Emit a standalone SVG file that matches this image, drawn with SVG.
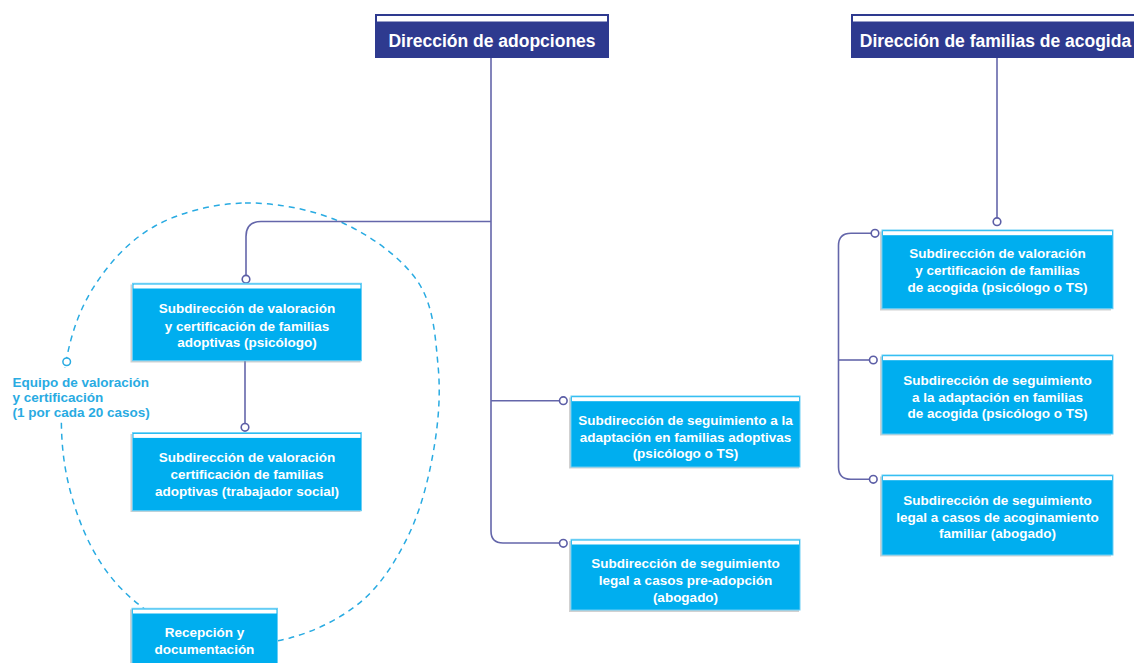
<svg xmlns="http://www.w3.org/2000/svg" width="1134" height="663" viewBox="0 0 1134 663">
<style>
.hdr{fill:#2E3A8F;stroke:#2E3A8F;stroke-width:1}
.hstripe{fill:#fff}
.box{fill:#00AEEF;stroke:#6CCFF5;stroke-width:1}
.stripe{fill:#fff}
.shadow{fill:#9a9a9a;opacity:0.45}
.ht{font-family:"Liberation Sans",Arial,sans-serif;font-weight:bold;font-size:17.5px;fill:#fff;text-anchor:middle}
.bt{font-family:"Liberation Sans",Arial,sans-serif;font-weight:bold;font-size:13.5px;fill:#fff;text-anchor:middle}
.lbl{font-family:"Liberation Sans",Arial,sans-serif;font-weight:bold;font-size:13.5px;fill:#29ABE2}
.conn{fill:none;stroke:#6466AA;stroke-width:1.6}
.dot{fill:#fff;stroke:#5C5EA6;stroke-width:1.6}
.dash{fill:none;stroke:#29ABE2;stroke-width:1.5;stroke-dasharray:6 5}
</style>

<g id="team-ellipse">
<path class="dash" d="M245 203 C276.3 202.5 314.2 209.8 343 223 C371.8 236.2 402.2 258.3 418 282 C433.8 305.7 435.3 337.3 438 365 C440.7 392.7 438.7 420.2 434 448 C429.3 475.8 421.8 506.7 410 532 C398.2 557.3 383 582.3 363 600 C343 617.7 314.7 631.3 290 638 C265.3 644.7 239.7 645.2 215 640 C190.3 634.8 162.5 622.3 142 607 C121.5 591.7 105 572.5 92 548 C79 523.5 68.3 491 64 460 C59.7 429 60.8 391.2 66 362 C71.2 332.8 80.2 307.7 95 285 C109.8 262.3 130 239.7 155 226 C180 212.3 213.7 203.5 245 203 Z"/>
</g>

<g id="connectors">
<path class="conn" d="M491 58 V531 Q491 543 503 543 H560"/>
<path class="conn" d="M491 221.5 H261 Q246 221.5 246 236.5 V275"/>
<path class="conn" d="M491 400.7 H559.5"/>
<path class="conn" d="M245 361 V423.5"/>
<path class="conn" d="M997 58 V218"/>
<path class="conn" d="M871 233.3 H851 Q838.5 233.3 838.5 245.8 V467 Q838.5 479.3 851 479.3 H869.5"/>
<path class="conn" d="M838.5 360 H869.5"/>
<circle class="dot" cx="246" cy="279.2" r="3.8"/>
<circle class="dot" cx="245" cy="427.3" r="3.8"/>
<circle class="dot" cx="563.3" cy="400.7" r="3.8"/>
<circle class="dot" cx="563.3" cy="543.3" r="3.8"/>
<circle class="dot" cx="997" cy="221.7" r="3.8"/>
<circle class="dot" cx="875" cy="233.3" r="3.8"/>
<circle class="dot" cx="873.3" cy="360" r="3.8"/>
<circle class="dot" cx="873.3" cy="479.3" r="3.8"/>
</g>

<g id="equipo-label">
<rect x="6" y="368" width="192" height="54" fill="#fff"/>
<circle cx="66.7" cy="361.7" r="3.8" fill="#fff" stroke="#29ABE2" stroke-width="1.5"/>
<text class="lbl" x="12.5" y="386.7">Equipo de valoración</text>
<text class="lbl" x="12.5" y="401.7">y certificación</text>
<text class="lbl" x="12.5" y="416.7">(1 por cada 20 casos)</text>
</g>

<g id="dir-adopciones">
<rect class="hdr" x="375.5" y="14.5" width="233" height="43"/>
<rect class="hstripe" x="377" y="16" width="230" height="5.5"/>
<text class="ht" x="492" y="46.7">Dirección de adopciones</text>
</g>

<g id="dir-acogida">
<rect class="hdr" x="851.5" y="14.5" width="290" height="43"/>
<rect class="hstripe" x="853" y="16" width="287" height="5.5"/>
<text class="ht" x="995.5" y="46.7">Dirección de familias de acogida</text>
</g>

<g id="sub-valoracion-psicologo">
<rect class="shadow" x="130.5" y="284.5" width="230" height="78"/>
<rect class="box" x="132.5" y="283.3" width="229" height="77.4"/>
<rect class="stripe" x="133.5" y="284.5" width="227" height="4"/>
<text class="bt" x="247" y="313.3">Subdirección de valoración</text>
<text class="bt" x="247" y="330.6">y certificación de familias</text>
<text class="bt" x="247" y="347.3">adoptivas (psicólogo)</text>
</g>

<g id="sub-valoracion-ts">
<rect class="shadow" x="130.5" y="434" width="230" height="78"/>
<rect class="box" x="132.5" y="432.7" width="229" height="78"/>
<rect class="stripe" x="133.5" y="433.9" width="227" height="4"/>
<text class="bt" x="247" y="461.7">Subdirección de valoración</text>
<text class="bt" x="247" y="479">certificación de familias</text>
<text class="bt" x="247" y="496">adoptivas (trabajador social)</text>
</g>

<g id="sub-seguimiento-adaptacion">
<rect class="shadow" x="569" y="397.5" width="230" height="71"/>
<rect class="box" x="571" y="396" width="229" height="71"/>
<rect class="stripe" x="572" y="397.2" width="227" height="4"/>
<text class="bt" x="685.5" y="425">Subdirección de seguimiento a la</text>
<text class="bt" x="685.5" y="441.7">adaptación en familias adoptivas</text>
<text class="bt" x="685.5" y="458.3">(psicólogo o TS)</text>
</g>

<g id="sub-seguimiento-legal">
<rect class="shadow" x="569" y="541" width="230" height="71"/>
<rect class="box" x="571" y="539.3" width="229" height="70.7"/>
<rect class="stripe" x="572" y="540.5" width="227" height="4"/>
<text class="bt" x="685.5" y="568.3">Subdirección de seguimiento</text>
<text class="bt" x="685.5" y="585">legal a casos pre-adopción</text>
<text class="bt" x="685.5" y="601.7">(abogado)</text>
</g>

<g id="acog-valoracion">
<rect class="shadow" x="880" y="231.5" width="231" height="79"/>
<rect class="box" x="882" y="230" width="231" height="78.7"/>
<rect class="stripe" x="883" y="231.2" width="229" height="4"/>
<text class="bt" x="997.5" y="258.3">Subdirección de valoración</text>
<text class="bt" x="997.5" y="275">y certificación de familias</text>
<text class="bt" x="997.5" y="291.7">de acogida (psicólogo o TS)</text>
</g>

<g id="acog-seguimiento">
<rect class="shadow" x="880" y="356.5" width="231" height="79"/>
<rect class="box" x="882" y="355" width="231" height="79"/>
<rect class="stripe" x="883" y="356.2" width="229" height="4"/>
<text class="bt" x="997.5" y="385">Subdirección de seguimiento</text>
<text class="bt" x="997.5" y="401.7">a la adaptación en familias</text>
<text class="bt" x="997.5" y="418.3">de acogida (psicólogo o TS)</text>
</g>

<g id="acog-legal">
<rect class="shadow" x="880" y="476.5" width="231" height="80"/>
<rect class="box" x="882" y="475" width="231" height="80"/>
<rect class="stripe" x="883" y="476.2" width="229" height="4"/>
<text class="bt" x="997.5" y="505">Subdirección de seguimiento</text>
<text class="bt" x="997.5" y="521.7">legal a casos de acoginamiento</text>
<text class="bt" x="997.5" y="538.3">familiar (abogado)</text>
</g>

<g id="recepcion">
<rect class="shadow" x="130" y="609.5" width="146" height="60"/>
<rect class="box" x="132" y="608.3" width="145.5" height="60"/>
<rect class="stripe" x="133" y="609.5" width="143.5" height="4"/>
<text class="bt" x="204.5" y="637.3">Recepción y</text>
<text class="bt" x="204.5" y="654">documentación</text>
</g>
</svg>
